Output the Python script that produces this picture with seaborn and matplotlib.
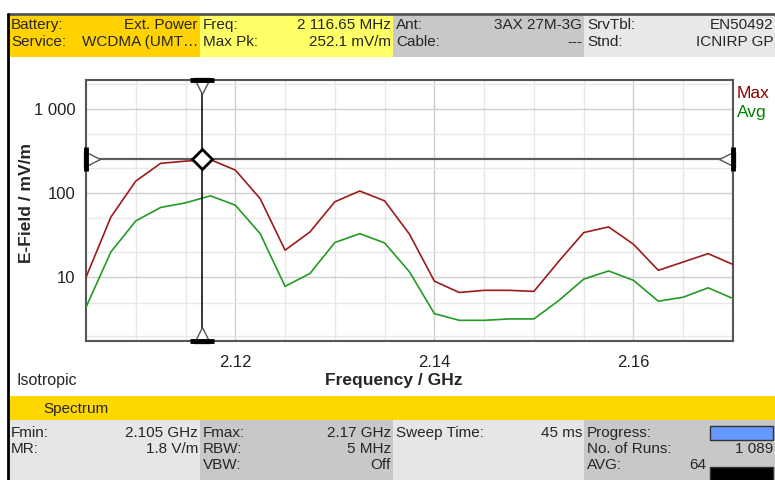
import numpy as np
import pandas as pd
import matplotlib
matplotlib.use("Agg")
import matplotlib.pyplot as plt
import seaborn as sns
from matplotlib.patches import Rectangle
from matplotlib.transforms import offset_copy

# ---------------------------------
# Data (read off the screen capture)
# ---------------------------------
freq_ghz = [2.105, 2.1075, 2.11, 2.1125, 2.115, 2.1175, 2.12, 2.1225, 2.125,
            2.1275, 2.13, 2.1325, 2.135, 2.1375, 2.14, 2.1425, 2.145, 2.1475,
            2.15, 2.1525, 2.155, 2.1575, 2.16, 2.1625, 2.165, 2.1675, 2.17]

max_mvm = [10.0, 52, 139, 226, 240, 250, 188, 86, 21, 34.6, 79, 106, 81, 32.5,
           9.0, 6.6, 7.0, 7.0, 6.8, 15.5, 34, 39.7, 24.7, 12.1, 15.2, 19.1, 14.2]

avg_mvm = [4.4, 20, 46.8, 67.6, 76.7, 92.9, 72, 33, 7.8, 11.1, 25.9, 33, 25.6,
           11.6, 3.7, 3.08, 3.08, 3.2, 3.2, 5.3, 9.5, 11.9, 9.2, 5.2, 5.8, 7.5, 5.6]

trace_names = ["Max", "Avg"]
trace_colors = {"Max": "#9e1a1a", "Avg": "#249a24"}
label_colors = {"Max": "#8b0000", "Avg": "#008000"}

marker_freq = 2.11665   # GHz
marker_level = 252.1    # mV/m

x_ticks = [2.12, 2.14, 2.16]
x_minor = [2.11, 2.115, 2.125, 2.13, 2.135, 2.145, 2.15, 2.155, 2.165]
y_ticks = [10, 100, 1000]
y_tick_labels = ["10", "100", "1 000"]
y_minor = [2, 5, 20, 50, 200, 500, 2000]

header_rows = [
    [("Battery:", "Ext. Power"), ("Freq:", "2 116.65 MHz"), ("Ant:", "3AX 27M-3G"), ("SrvTbl:", "EN50492")],
    [("Service:", "WCDMA (UMT\u2026"), ("Max Pk:", "252.1 mV/m"), ("Cable:", "---"), ("Stnd:", "ICNIRP GP")],
]
footer_rows = [
    [("Fmin:", "2.105 GHz"), ("Fmax:", "2.17 GHz"), ("Sweep Time:", "45 ms"), ("Progress:", "")],
    [("MR:", "1.8 V/m"), ("RBW:", "5 MHz"), ("", ""), ("No. of Runs:", "1 089")],
    [("", ""), ("VBW:", "Off"), ("", ""), ("AVG:", "64")],
]

df = pd.concat([
    pd.DataFrame({"freq": freq_ghz, "value": max_mvm, "trace": "Max"}),
    pd.DataFrame({"freq": freq_ghz, "value": avg_mvm, "trace": "Avg"}),
])

# ---------------------------------
# Figure
# ---------------------------------
sns.set_style("white")
plt.rcParams["font.family"] = ["Liberation Sans", "DejaVu Sans"]

fig = plt.figure(figsize=(7.75, 4.8), dpi=100)

# background panel in pixel coordinates
bg = fig.add_axes([0, 0, 1, 1])
bg.set_xlim(0, 775)
bg.set_ylim(480, 0)
bg.axis("off")

col_x = [8, 200, 393, 584, 775]
head_colors = ["#ffd200", "#ffff66", "#c8c8c8", "#e8e8e8"]
foot_colors = ["#e6e6e6", "#c8c8c8", "#e6e6e6", "#c8c8c8"]

for i in range(4):
    bg.add_patch(Rectangle((col_x[i], 14), col_x[i + 1] - col_x[i], 43, color=head_colors[i], lw=0))
    bg.add_patch(Rectangle((col_x[i], 420), col_x[i + 1] - col_x[i], 60, color=foot_colors[i], lw=0))
bg.add_patch(Rectangle((8, 396), 767, 24, color="#ffd700", lw=0))

for r, row in enumerate(header_rows):
    y = 25 + r * 17
    for i, (lab, val) in enumerate(row):
        bg.text(col_x[i] + 3, y, lab, fontsize=11, va="center", ha="left")
        right = col_x[i + 1] - 2
        bg.text(right, y, val, fontsize=11, va="center", ha="right")

for r, row in enumerate(footer_rows):
    y = 433 + r * 16
    for i, (lab, val) in enumerate(row):
        bg.text(col_x[i] + 3, y, lab, fontsize=11, va="center", ha="left")
        right = col_x[i + 1] - 2
        if lab == "AVG:":
            right = 706
        bg.text(right, y, val, fontsize=11, va="center", ha="right")

bg.text(43, 409, "Spectrum", fontsize=11, va="center", ha="left")
bg.add_patch(Rectangle((710, 426), 63, 14, facecolor="#6699ff", edgecolor="#333333", lw=1))
bg.add_patch(Rectangle((710, 467), 63, 14, facecolor="black", edgecolor="#333333", lw=1))

bg.plot([8, 775], [14, 14], color="#555555", lw=2)
bg.plot([8, 8], [14, 480], color="black", lw=2)

bg.text(16, 380, "Isotropic", fontsize=11.5, va="center", ha="left")
bg.text(394, 381, "Frequency / GHz", fontsize=12.5, fontweight="bold", va="center", ha="center")
bg.text(27, 203, "E-Field / mV/m", fontsize=12.5, fontweight="bold", rotation=90, va="center", ha="center")
for k, name in enumerate(trace_names):
    bg.text(737, 93 + k * 19, name, fontsize=12.5, color=label_colors[name], va="center", ha="left")

# main plot
ax = fig.add_axes([86 / 775, 1 - 341 / 480, 647 / 775, 261 / 480])
sns.lineplot(data=df, x="freq", y="value", hue="trace", palette=trace_colors,
             legend=False, ax=ax, linewidth=1.2, zorder=3)
ax.set_yscale("log")
ax.set_xlim(2.105, 2.17)
ax.set_ylim(1.75, 2210)

ax.set_xticks(x_ticks)
ax.set_xticklabels([f"{t:.2f}" for t in x_ticks])
ax.set_xticks(x_minor, minor=True)
ax.set_yticks(y_ticks)
ax.set_yticklabels(y_tick_labels)
ax.set_yticks(y_minor, minor=True)
ax.yaxis.set_minor_formatter(plt.NullFormatter())
ax.tick_params(which="major", length=4, width=1, color="#444444", labelsize=12,
               labelcolor="#222222", direction="out")
ax.tick_params(which="minor", length=0)
ax.tick_params(axis="x", pad=6)
ax.grid(which="major", color="#cfcfcf", lw=1)
ax.grid(which="minor", color="#e8e8e8", lw=1)
ax.set_axisbelow(True)
ax.set_xlabel("")
ax.set_ylabel("")
for s in ax.spines.values():
    s.set_color("#555555")
    s.set_linewidth(1.5)

# marker cursor
ax.axhline(marker_level, color="#5c5c5c", lw=1.6, zorder=4)
ax.axvline(marker_freq, color="black", lw=1.1, zorder=4)
ax.plot([marker_freq], [marker_level], marker="D", ms=10, mfc="white", mec="black",
        mew=2, zorder=7)

xt = ax.get_xaxis_transform()
yt = ax.get_yaxis_transform()
tri = dict(ms=12, mfc="white", mec="#555555", mew=1, clip_on=False, zorder=6, ls="none")
bar = dict(ms=17, mew=3.5, color="black", clip_on=False, zorder=7, ls="none")
ax.plot([marker_freq], [1], marker="v", transform=offset_copy(xt, fig=fig, y=-6, units="dots"), **tri)
ax.plot([marker_freq], [0], marker="^", transform=offset_copy(xt, fig=fig, y=6, units="dots"), **tri)
ax.plot([0], [marker_level], marker=">", transform=offset_copy(yt, fig=fig, x=6, units="dots"), **tri)
ax.plot([1], [marker_level], marker="<", transform=offset_copy(yt, fig=fig, x=-6, units="dots"), **tri)
ax.plot([marker_freq], [1], marker="_", transform=xt, **bar)
ax.plot([marker_freq], [0], marker="_", transform=xt, **bar)
ax.plot([0], [marker_level], marker="|", transform=yt, **bar)
ax.plot([1], [marker_level], marker="|", transform=yt, **bar)

fig.savefig("out.png", dpi=100)
